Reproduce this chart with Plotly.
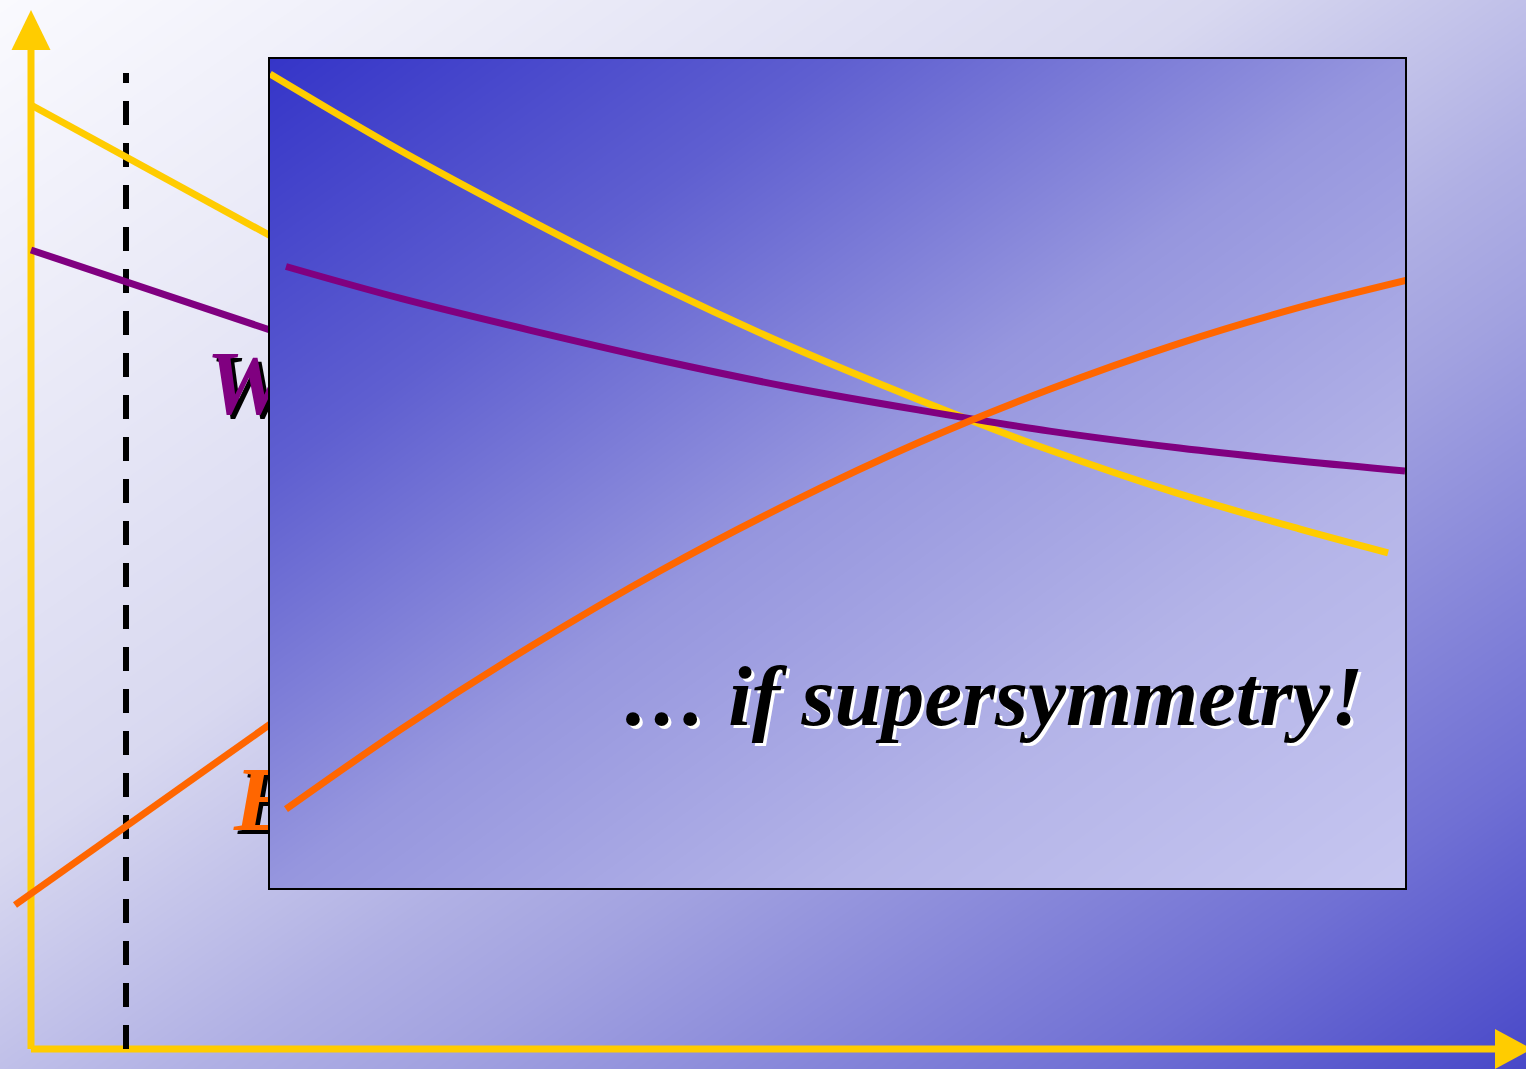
import numpy as np
import plotly.graph_objects as go

# ---- data (chart units: x = energy scale, y = inverse coupling; origin at axis corner) ----
sm_strong_x = [0, 269]
sm_strong_y = [944, 797]
sm_weak_x = [0, 269]
sm_weak_y = [799, 709]
sm_em_x = [-16, 269]
sm_em_y = [144, 346]

susy_strong_x = [238, 369, 499, 629, 759, 889, 1019, 1149, 1269, 1358]
susy_strong_y = [976, 899, 829, 763, 703, 649, 599, 555, 520, 496]
susy_weak_x = [254, 369, 499, 629, 759, 889, 1019, 1149, 1269, 1375]
susy_weak_y = [783, 751, 719, 689, 662, 639, 618, 601, 588, 578]
susy_em_x = [254, 369, 499, 629, 759, 889, 1019, 1149, 1269, 1380]
susy_em_y = [239, 319, 402, 478, 546, 607, 660, 706, 742, 770]

threshold_x = [95, 95]
threshold_y = [0, 976]

label_weak = "Weak"
label_em = "Electromagnetic"
inset_text = "… if supersymmetry!"

YELLOW = "#ffcc00"
PURPLE = "#800080"
ORANGE = "#ff6600"

# axis ranges
X_MAIN = [-31, 1495]
Y_MAIN = [-20, 1049]
X_IN = [238, 1375]
Y_IN = [160, 991]

fig = go.Figure()

# background gradient (main)
bx = np.linspace(X_MAIN[0], X_MAIN[1], 13)
by = np.linspace(Y_MAIN[0], Y_MAIN[1], 9)
BX, BY = np.meshgrid(bx, by)
bz = ((BX - X_MAIN[0]) / (X_MAIN[1] - X_MAIN[0]) + (Y_MAIN[1] - BY) / (Y_MAIN[1] - Y_MAIN[0])) / 2
bg_scale = [[0, "rgb(250,250,254)"], [0.4, "rgb(216,216,240)"], [0.565, "rgb(176,176,228)"],
            [0.64, "rgb(162,162,224)"], [0.86, "rgb(112,112,212)"], [1, "rgb(72,72,200)"]]
fig.add_trace(go.Heatmap(x=bx, y=by, z=bz, colorscale=bg_scale, zmin=0, zmax=1, zsmooth="best",
                         showscale=False, hoverinfo="skip", xaxis="x", yaxis="y"))

# axes arrows
fig.add_trace(go.Scatter(x=[0, 0], y=[0, 1000], mode="lines", line=dict(color=YELLOW, width=7),
                         xaxis="x", yaxis="y", hoverinfo="skip"))
fig.add_trace(go.Scatter(x=[0, 1465], y=[0, 0], mode="lines", line=dict(color=YELLOW, width=7),
                         xaxis="x", yaxis="y", hoverinfo="skip"))
fig.add_trace(go.Scatter(x=[-19.5, 19.5, 0, -19.5], y=[999, 999, 1039, 999], mode="lines", fill="toself",
                         fillcolor=YELLOW, line=dict(width=0, color=YELLOW), xaxis="x", yaxis="y", hoverinfo="skip"))
fig.add_trace(go.Scatter(x=[1464, 1464, 1501, 1464], y=[20, -20, 0, 20], mode="lines", fill="toself",
                         fillcolor=YELLOW, line=dict(width=0, color=YELLOW), xaxis="x", yaxis="y", hoverinfo="skip"))

# dashed threshold
fig.add_trace(go.Scatter(x=threshold_x, y=threshold_y, mode="lines",
                         line=dict(color="black", width=6, dash="24px,18px"), xaxis="x", yaxis="y", hoverinfo="skip"))

# standard model lines
for xs, ys, c in [(sm_strong_x, sm_strong_y, YELLOW), (sm_weak_x, sm_weak_y, PURPLE), (sm_em_x, sm_em_y, ORANGE)]:
    fig.add_trace(go.Scatter(x=xs, y=ys, mode="lines", line=dict(color=c, width=7),
                             xaxis="x", yaxis="y", hoverinfo="skip"))

# labels (partly hidden by inset)
for txt, lx, ly, c in [(label_weak, 175, 658, PURPLE), (label_em, 203, 242, ORANGE)]:
    fig.add_trace(go.Scatter(x=[lx], y=[ly], mode="text", text=[txt], textposition="middle right",
                             textfont=dict(family="Liberation Serif", size=92, color=c, weight="bold",
                                           style="italic", shadow="4px 4px 0px black"),
                             xaxis="x", yaxis="y", hoverinfo="skip"))

# inset gradient
ix = np.linspace(X_IN[0], X_IN[1], 13)
iy = np.linspace(Y_IN[0], Y_IN[1], 9)
IX, IY = np.meshgrid(ix, iy)
iz = ((IX - X_IN[0]) / (X_IN[1] - X_IN[0]) + (Y_IN[1] - IY) / (Y_IN[1] - Y_IN[0])) / 2
in_scale = [[0, "rgb(53,53,200)"], [0.25, "rgb(95,95,208)"], [0.5, "rgb(150,150,222)"],
            [0.75, "rgb(180,180,232)"], [1, "rgb(198,198,240)"]]
fig.add_trace(go.Heatmap(x=ix, y=iy, z=iz, colorscale=in_scale, zmin=0, zmax=1, zsmooth="best",
                         showscale=False, hoverinfo="skip", xaxis="x2", yaxis="y2"))

for xs, ys, c in [(susy_strong_x, susy_strong_y, YELLOW), (susy_weak_x, susy_weak_y, PURPLE),
                  (susy_em_x, susy_em_y, ORANGE)]:
    fig.add_trace(go.Scatter(x=xs, y=ys, mode="lines", line=dict(color=c, width=7, shape="spline"),
                             xaxis="x2", yaxis="y2", hoverinfo="skip"))

fig.add_annotation(x=589, y=352, xref="x2", yref="y2", text=inset_text, showarrow=False,
                   xanchor="left", yanchor="middle",
                   font=dict(family="Liberation Serif", size=85, color="black", weight="bold",
                             style="italic", shadow="3px 3px 0px white"))

hidden = dict(showgrid=False, zeroline=False, showticklabels=False, ticks="", showline=False)
W, H = 1526, 1069
fig.update_layout(
    width=W, height=H, margin=dict(l=0, r=0, t=0, b=0), showlegend=False,
    paper_bgcolor="white", plot_bgcolor="rgba(0,0,0,0)",
    xaxis=dict(domain=[0, 1], range=X_MAIN, **hidden),
    yaxis=dict(domain=[0, 1], range=Y_MAIN, **hidden),
    xaxis2=dict(domain=[270 / W, 1405 / W], range=X_IN, anchor="y2", showgrid=False, zeroline=False,
                showticklabels=False, ticks="", showline=True, mirror=True, linecolor="black", linewidth=2),
    yaxis2=dict(domain=[(H - 888) / H, (H - 59) / H], range=Y_IN, anchor="x2", showgrid=False, zeroline=False,
                showticklabels=False, ticks="", showline=True, mirror=True, linecolor="black", linewidth=2),
)
fig.write_html("out.html", config={"displayModeBar": False},
               post_script="document.body.style.margin='0';document.body.style.overflow='hidden';")
